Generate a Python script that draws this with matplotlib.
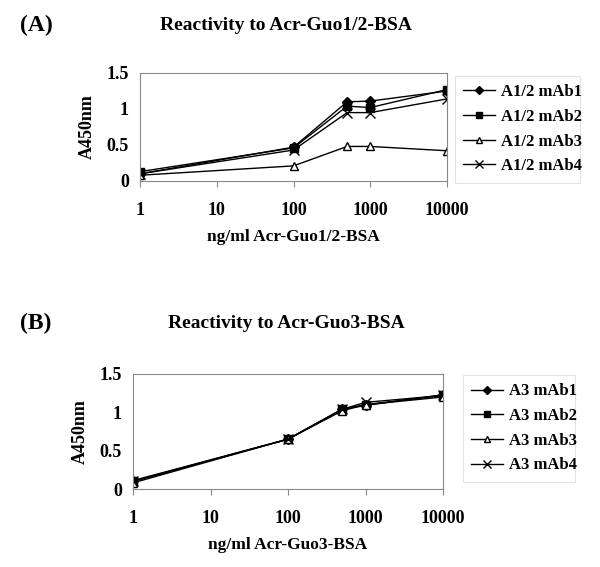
import numpy as np
import matplotlib
matplotlib.use("Agg")
import matplotlib.pyplot as plt

plt.rcParams["font.family"] = ["Liberation Serif", "DejaVu Serif"]
plt.rcParams["font.weight"] = "bold"

conc = [1, 100, 500, 1000, 10000]

# panel A: reactivity to Acr-Guo1/2-BSA
a_labels = ["A1/2 mAb1", "A1/2 mAb2", "A1/2 mAb3", "A1/2 mAb4"]
a_mab1 = [0.10, 0.47, 1.10, 1.11, 1.25]
a_mab2 = [0.13, 0.46, 1.04, 1.02, 1.27]
a_mab3 = [0.08, 0.21, 0.48, 0.48, 0.42]
a_mab4 = [0.10, 0.43, 0.95, 0.95, 1.14]

# panel B: reactivity to Acr-Guo3-BSA
b_labels = ["A3 mAb1", "A3 mAb2", "A3 mAb3", "A3 mAb4"]
b_mab1 = [0.10, 0.65, 1.04, 1.10, 1.22]
b_mab2 = [0.11, 0.65, 1.04, 1.09, 1.23]
b_mab3 = [0.08, 0.65, 1.02, 1.10, 1.20]
b_mab4 = [0.10, 0.65, 1.04, 1.13, 1.22]

xticks = [1, 10, 100, 1000, 10000]
yticks = [0, 0.5, 1, 1.5]
ytick_labels = ["0", "0.5", "1", "1.5"]

styles = [
    dict(marker="D", markersize=5, markerfacecolor="black"),
    dict(marker="s", markersize=5.5, markerfacecolor="black"),
    dict(marker="^", markersize=6, markerfacecolor="white"),
    dict(marker="x", markersize=7, markeredgewidth=1.0),
]

fig = plt.figure(figsize=(6.0, 5.67), dpi=100)
W, H = 600.0, 567.0


def panel(rect, series, labels, xlabel, title, tag, title_y, leg_rect):
    l, t, r, b = rect
    ax = fig.add_axes([l / W, 1 - b / H, (r - l) / W, (b - t) / H])
    for ys, lab, st in zip(series, labels, styles):
        ax.plot(conc, ys, color="black", linewidth=1.0, label=lab,
                markeredgecolor="black", **st)
    ax.set_xscale("log")
    ax.set_xlim(1, 10000)
    ax.set_ylim(0, 1.5)
    ax.set_xticks(xticks)
    ax.set_xticklabels([str(v) for v in xticks])
    ax.minorticks_off()
    ax.set_yticks(yticks)
    ax.set_yticklabels(ytick_labels)
    ax.tick_params(axis="x", length=4, width=0.8, pad=11, labelsize=13,
                   direction="out", color="#888888")
    ax.tick_params(axis="y", length=0, pad=8, labelsize=13)
    for sp in ax.spines.values():
        sp.set_color("#888888")
        sp.set_linewidth(0.8)
    ax.set_xlabel(xlabel, fontsize=12.5, fontweight="bold", labelpad=7)
    ax.set_ylabel("A450nm", fontsize=13, fontweight="bold", labelpad=8)
    fig.text(286 / W, 1 - title_y / H, title, ha="center", va="center",
             fontsize=14, fontweight="bold")
    fig.text(20 / W, 1 - title_y / H, tag, ha="left", va="center",
             fontsize=17, fontweight="bold")
    ll, lt, lr, lb = leg_rect
    leg = ax.legend(loc="upper left",
                    bbox_to_anchor=(ll / W, 1 - lb / H, (lr - ll) / W, (lb - lt) / H),
                    bbox_transform=fig.transFigure, mode="expand",
                    fontsize=12, frameon=True, fancybox=False,
                    handlelength=1.9, handletextpad=0.35, labelspacing=0.52,
                    borderpad=0.5, borderaxespad=0, markerscale=0.75)
    leg.get_frame().set_edgecolor("#dddddd")
    leg.get_frame().set_linewidth(0.8)
    return ax


panel((140, 73, 447, 181), [a_mab1, a_mab2, a_mab3, a_mab4], a_labels,
      "ng/ml Acr-Guo1/2-BSA", "Reactivity to Acr-Guo1/2-BSA", "(A)", 25,
      (455, 76, 580, 177))
panel((133, 374, 443, 489), [b_mab1, b_mab2, b_mab3, b_mab4], b_labels,
      "ng/ml Acr-Guo3-BSA", "Reactivity to Acr-Guo3-BSA", "(B)", 323,
      (463, 375, 575, 476))

fig.savefig("out.png", dpi=100)
